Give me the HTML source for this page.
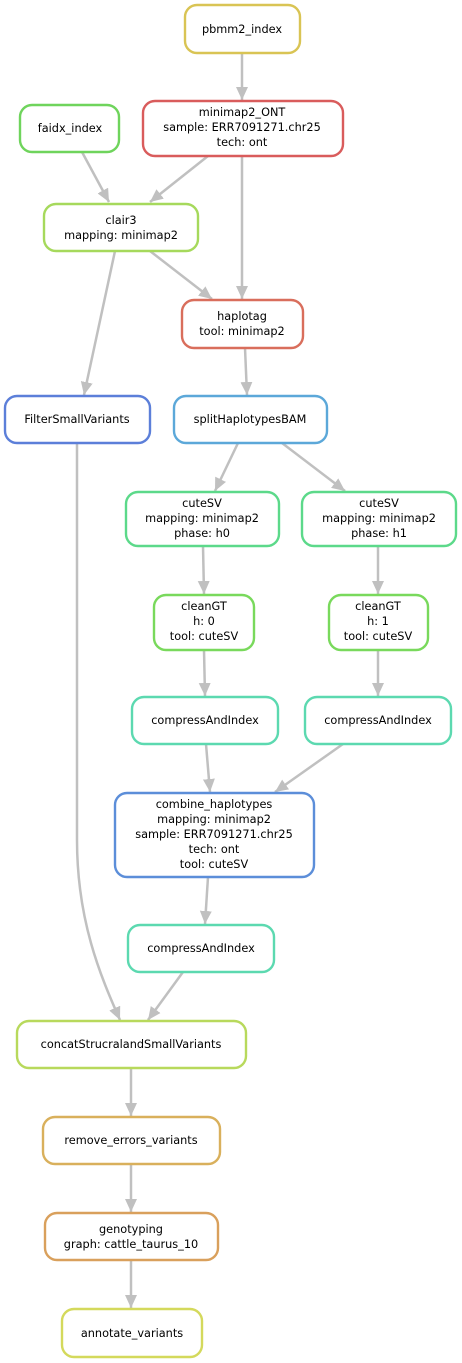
<!DOCTYPE html>
<html><head><meta charset="utf-8"><style>
html,body{margin:0;padding:0;background:#fff;width:462px;height:1363px;overflow:hidden}
svg text{font-family:"DejaVu Sans","Liberation Sans",sans-serif;font-size:11.3px;fill:#000;text-anchor:middle}
</style></head><body>
<svg width="462" height="1363" viewBox="0 0 462 1363" xmlns="http://www.w3.org/2000/svg">
<defs>
<marker id="a" markerUnits="userSpaceOnUse" markerWidth="16" markerHeight="14" refX="13" refY="6" orient="auto">
<polygon points="0,0 13,6 0,12" fill="#c0c0c0"/>
</marker>
</defs>
<g stroke="#c0c0c0" stroke-width="2.5" fill="none" marker-end="url(#a)">
<line x1="242" y1="53" x2="242" y2="100"/>
<line x1="82" y1="152" x2="109" y2="202"/>
<line x1="208" y1="156" x2="150" y2="202"/>
<line x1="242" y1="156" x2="242" y2="299"/>
<line x1="150" y1="251" x2="212" y2="299"/>
<line x1="115" y1="251" x2="84" y2="395"/>
<line x1="245" y1="348" x2="247" y2="395"/>
<line x1="238" y1="443" x2="215" y2="491"/>
<line x1="282" y1="443" x2="345" y2="491"/>
<line x1="203" y1="546" x2="204" y2="594"/>
<line x1="378" y1="546" x2="378" y2="594"/>
<line x1="204" y1="650" x2="205" y2="696"/>
<line x1="378" y1="650" x2="378" y2="696"/>
<line x1="206" y1="744" x2="210" y2="792"/>
<line x1="343" y1="744" x2="275" y2="792"/>
<line x1="208" y1="877" x2="205" y2="924"/>
<line x1="183" y1="972" x2="148" y2="1020"/>
<path d="M77,443 L77,840 C77,920 100,975 120,1020"/>
<line x1="131" y1="1068" x2="131" y2="1116"/>
<line x1="131" y1="1164" x2="131" y2="1212"/>
<line x1="131" y1="1260" x2="131" y2="1308"/>
</g>
<g fill="#fff" stroke-width="2.4">
<rect x="185" y="5" width="115" height="48" rx="12" stroke="#d9c454"/>
<rect x="143" y="101" width="200" height="55" rx="12" stroke="#d95c5c"/>
<rect x="20" y="105" width="99" height="47" rx="12" stroke="#6fd45c"/>
<rect x="44" y="204" width="154" height="47" rx="12" stroke="#a6d95c"/>
<rect x="182" y="300" width="121" height="48" rx="12" stroke="#d96e5c"/>
<rect x="5" y="396" width="145" height="47" rx="12" stroke="#5c7fd9"/>
<rect x="174" y="396" width="153" height="47" rx="12" stroke="#5ca8d9"/>
<rect x="126" y="492" width="153" height="54" rx="12" stroke="#5cd98a"/>
<rect x="302" y="492" width="154" height="54" rx="12" stroke="#5cd98a"/>
<rect x="154" y="595" width="100" height="55" rx="12" stroke="#79d95c"/>
<rect x="329" y="595" width="99" height="55" rx="12" stroke="#79d95c"/>
<rect x="132" y="697" width="146" height="47" rx="12" stroke="#5cd9b0"/>
<rect x="305" y="697" width="146" height="47" rx="12" stroke="#5cd9b0"/>
<rect x="115" y="793" width="199" height="84" rx="12" stroke="#5c8ed9"/>
<rect x="128" y="925" width="146" height="47" rx="12" stroke="#5cd9b0"/>
<rect x="17" y="1021" width="229" height="47" rx="12" stroke="#b8d95c"/>
<rect x="43" y="1117" width="177" height="47" rx="12" stroke="#d9b05c"/>
<rect x="45" y="1213" width="173" height="47" rx="12" stroke="#d9a05c"/>
<rect x="62" y="1309" width="140" height="48" rx="12" stroke="#d4d95c"/>
</g>
<text x="242" y="33">pbmm2_index</text>
<text x="242" y="116">minimap2_ONT</text>
<text x="242" y="131">sample: ERR7091271.chr25</text>
<text x="242" y="146">tech: ont</text>
<text x="70" y="132">faidx_index</text>
<text x="121" y="224">clair3</text>
<text x="121" y="239">mapping: minimap2</text>
<text x="242" y="320">haplotag</text>
<text x="242" y="335">tool: minimap2</text>
<text x="77" y="423">FilterSmallVariants</text>
<text x="250" y="423">splitHaplotypesBAM</text>
<text x="202" y="507">cuteSV</text>
<text x="202" y="522">mapping: minimap2</text>
<text x="202" y="537">phase: h0</text>
<text x="379" y="507">cuteSV</text>
<text x="379" y="522">mapping: minimap2</text>
<text x="379" y="537">phase: h1</text>
<text x="204" y="610">cleanGT</text>
<text x="204" y="625">h: 0</text>
<text x="204" y="640">tool: cuteSV</text>
<text x="378" y="610">cleanGT</text>
<text x="378" y="625">h: 1</text>
<text x="378" y="640">tool: cuteSV</text>
<text x="205" y="724">compressAndIndex</text>
<text x="378" y="724">compressAndIndex</text>
<text x="214" y="808">combine_haplotypes</text>
<text x="214" y="823">mapping: minimap2</text>
<text x="214" y="838">sample: ERR7091271.chr25</text>
<text x="214" y="853">tech: ont</text>
<text x="214" y="868">tool: cuteSV</text>
<text x="201" y="952">compressAndIndex</text>
<text x="131" y="1048">concatStrucralandSmallVariants</text>
<text x="131" y="1144">remove_errors_variants</text>
<text x="131" y="1233">genotyping</text>
<text x="131" y="1248">graph: cattle_taurus_10</text>
<text x="132" y="1337">annotate_variants</text>
</svg>
</body></html>
